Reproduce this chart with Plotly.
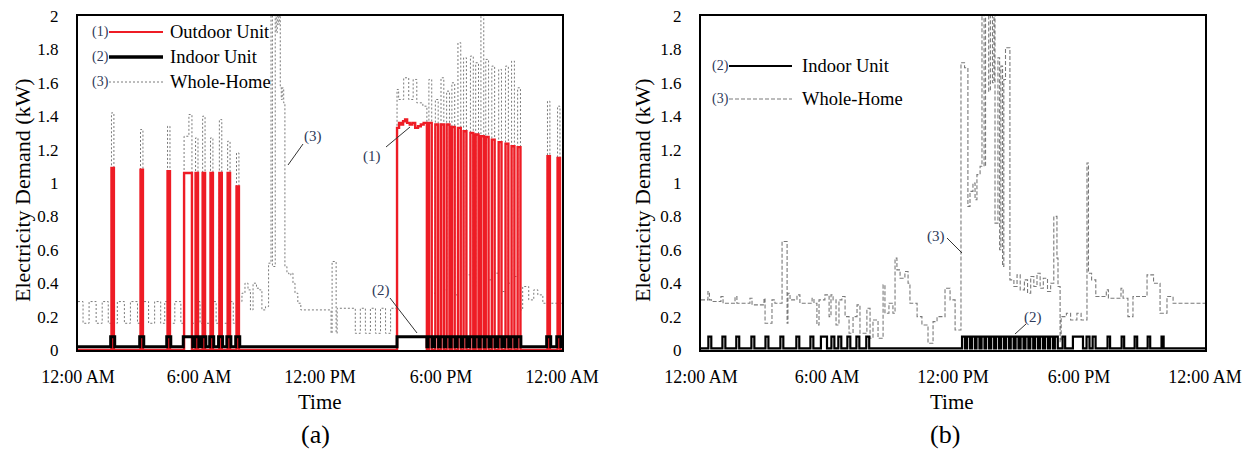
import plotly.graph_objects as go

# ---------------- data (hours after midnight, kW) ----------------
hour_ticks = [0, 6, 12, 18, 24]
hour_labels = ["12:00 AM", "6:00 AM", "12:00 PM", "6:00 PM", "12:00 AM"]

# (a) outdoor unit: on-periods (start, end, kW)
odu_a_start = [1.66, 3.10, 4.44, 5.26, 5.83, 6.18, 6.57, 7.01, 7.42, 7.86,
               15.82, 15.92, 16.02, 16.12, 16.22, 16.32, 16.45, 16.58, 16.72, 16.86, 17.00, 17.14,
               17.40, 17.72, 18.00, 18.28, 18.54, 18.84, 19.12, 19.46, 19.72, 19.98,
               20.22, 20.52, 20.86, 21.20, 21.50, 21.80, 23.28, 23.78]
odu_a_end = [1.78, 3.22, 4.56, 5.65, 5.95, 6.30, 6.69, 7.13, 7.54, 7.98,
             15.92, 16.02, 16.12, 16.22, 16.32, 16.45, 16.58, 16.72, 16.86, 17.00, 17.14, 17.30,
             17.54, 17.86, 18.14, 18.42, 18.68, 18.98, 19.26, 19.60, 19.86, 20.12,
             20.36, 20.66, 21.00, 21.34, 21.64, 21.94, 23.40, 23.90]
odu_a_kw = [1.09, 1.08, 1.07, 1.06, 1.06, 1.06, 1.06, 1.06, 1.06, 0.98,
            1.33, 1.36, 1.35, 1.37, 1.38, 1.36, 1.35, 1.36, 1.33, 1.34, 1.35, 1.36,
            1.36, 1.35, 1.35, 1.35, 1.335, 1.33, 1.31, 1.30, 1.29, 1.28,
            1.275, 1.26, 1.245, 1.235, 1.22, 1.215, 1.16, 1.15]
odu_a_off = 0.0

# (a) indoor unit: on-periods
idu_a_start = [1.62, 3.06, 4.40, 5.22, 5.79, 6.14, 6.53, 6.97, 7.38, 7.82,
               15.82, 17.36, 17.68, 17.96, 18.24, 18.50, 18.80, 19.08, 19.42, 19.68, 19.94,
               20.18, 20.48, 20.82, 21.16, 21.46, 21.76, 23.24, 23.74]
idu_a_end = [1.82, 3.26, 4.60, 5.69, 5.99, 6.34, 6.73, 7.17, 7.58, 8.02,
             17.30, 17.56, 17.88, 18.16, 18.44, 18.70, 19.00, 19.28, 19.62, 19.88, 20.14,
             20.38, 20.68, 21.02, 21.36, 21.66, 21.96, 23.44, 23.94]
idu_a_kw = [0.08] * len(idu_a_start)
idu_a_off = 0.02

# (a) whole-home
wh_a_t = [0.00, 0.25, 0.55, 0.90, 1.20, 1.50, 1.66, 1.78, 1.95, 2.30, 2.60, 2.95,
          3.10, 3.22, 3.50, 3.80, 4.10, 4.30, 4.44, 4.56, 4.80, 5.10,
          5.26, 5.50, 5.65, 5.83, 5.95, 6.05, 6.18, 6.30, 6.57, 6.69, 6.85,
          7.01, 7.13, 7.42, 7.54, 7.70, 7.86, 7.98,
          8.13, 8.28, 8.43, 8.55, 8.68, 8.85, 9.00, 9.12, 9.30, 9.45, 9.57, 9.64,
          9.78, 9.83, 9.88, 9.93, 9.98, 10.03, 10.08, 10.13, 10.20, 10.26, 10.36,
          10.46, 10.56, 10.66, 10.76, 10.90, 11.05, 12.55, 12.60, 12.80, 12.85,
          13.75, 14.00, 14.25, 14.50, 14.75, 15.00, 15.25, 15.50,
          15.82, 15.90, 16.15, 16.40, 16.62, 16.80, 17.10, 17.30,
          17.40, 17.54, 17.72, 17.86, 18.00, 18.14, 18.28, 18.42, 18.54, 18.68,
          18.84, 18.98, 19.12, 19.26, 19.46, 19.60, 19.72, 19.86, 19.98, 20.12,
          20.22, 20.36, 20.52, 20.66, 20.86, 21.00, 21.20, 21.34, 21.50, 21.64,
          21.80, 21.94, 22.05, 22.35, 22.60, 22.80, 23.05, 23.28, 23.40, 23.78,
          23.90, 24.00]
wh_a_kw = [0.29, 0.16, 0.29, 0.16, 0.29, 0.16, 1.42, 0.16, 0.29, 0.16, 0.29, 0.16,
           1.32, 0.29, 0.16, 0.29, 0.16, 0.29, 1.34, 0.16, 0.29, 0.16,
           1.28, 1.41, 0.16, 1.27, 0.29, 0.16, 1.40, 0.16, 1.27, 0.29, 0.16,
           1.38, 0.16, 1.25, 0.29, 0.16, 1.18, 0.29,
           0.34, 0.40, 0.36, 0.24, 0.40, 0.37, 0.36, 0.24, 0.26, 0.52, 2.10, 0.50,
           2.10, 1.90, 2.10, 1.95, 2.10, 1.58, 1.50, 1.57, 1.48, 0.50, 0.46,
           0.45, 0.46, 0.40, 0.34, 0.28, 0.24, 0.10, 0.53, 0.10, 0.25,
           0.10, 0.25, 0.10, 0.25, 0.10, 0.25, 0.10, 0.25,
           1.56, 1.50, 1.63, 1.50, 1.62, 1.48, 1.46, 0.40,
           1.62, 0.34, 1.50, 0.42, 1.63, 0.36, 1.55, 0.44, 1.60, 0.33,
           1.84, 0.40, 1.75, 0.45, 1.76, 0.38, 1.72, 0.48, 2.05, 0.36,
           1.74, 0.42, 1.70, 0.46, 1.68, 0.35, 1.70, 0.40, 1.73, 0.44,
           1.57, 0.24, 0.38, 0.30, 0.36, 0.33, 0.28, 1.49, 0.28, 1.46,
           0.28, 0.28]

# (b) indoor unit: on-periods
idu_b_start = [0.35, 1.02, 1.68, 2.40, 3.07, 3.78, 4.54, 5.21, 5.71, 6.21, 6.54, 6.97,
               7.40, 7.87, 12.43, 12.67, 12.90, 13.12, 13.36, 13.58, 13.82, 14.05,
               14.28, 14.52, 14.75, 14.98, 15.22, 15.45, 15.68, 15.91, 16.15, 16.38,
               16.62, 16.85, 17.22, 17.71, 18.36, 18.65, 19.36, 20.03, 20.65, 21.27, 21.93]
idu_b_end = [0.49, 1.16, 1.82, 2.54, 3.21, 3.92, 4.68, 5.35, 6.00, 6.35, 6.68, 7.11,
             7.54, 8.01, 12.57, 12.81, 13.04, 13.26, 13.50, 13.72, 13.96, 14.19,
             14.42, 14.66, 14.89, 15.12, 15.36, 15.59, 15.82, 16.05, 16.29, 16.52,
             16.76, 16.99, 17.34, 18.19, 18.50, 18.79, 19.48, 20.15, 20.77, 21.39, 22.03]
idu_b_kw = [0.08] * len(idu_b_start)
idu_b_off = 0.01

# (b) whole-home
wh_b_t = [0.00, 0.33, 0.40, 0.50, 0.95, 1.05, 1.62, 1.71, 2.33, 2.43, 3.00, 3.05,
          3.38, 3.52, 3.86, 4.10, 4.14, 4.24, 4.57, 4.71, 5.29, 5.38, 5.52, 5.62,
          5.90, 6.10, 6.19, 6.29, 6.43, 6.57, 6.71, 6.86, 7.05, 7.24, 7.43, 7.57,
          7.90, 8.05, 8.19, 8.43, 8.67, 8.76, 8.95, 9.14, 9.24, 9.33, 9.48, 9.71,
          9.86, 9.95, 10.29, 10.52, 10.81, 11.05, 11.24, 11.62, 11.86, 12.10,
          12.38, 12.55, 12.71, 12.81, 12.95, 13.05, 13.14, 13.29, 13.38, 13.48,
          13.55, 13.70, 13.78, 13.88, 13.95, 14.00, 14.14, 14.22, 14.28, 14.36,
          14.42, 14.50, 14.71, 14.90, 15.05, 15.20, 15.40, 15.55, 15.70, 15.85,
          16.00, 16.15, 16.30, 16.50, 16.65, 16.80, 16.95, 17.00, 17.10, 17.15,
          17.40, 17.60, 17.90, 18.10, 18.38, 18.45, 18.60, 18.80, 19.30, 19.40,
          20.00, 20.10, 20.33, 20.57, 21.24, 21.55, 21.86, 22.19, 22.48, 24.00]
wh_b_kw = [0.30, 0.35, 0.30, 0.29, 0.32, 0.28, 0.32, 0.28, 0.31, 0.27, 0.31, 0.16,
           0.30, 0.28, 0.65, 0.16, 0.34, 0.30, 0.33, 0.28, 0.31, 0.28, 0.15, 0.30,
           0.33, 0.20, 0.33, 0.30, 0.15, 0.30, 0.32, 0.20, 0.10, 0.20, 0.27, 0.10,
           0.25, 0.07, 0.18, 0.07, 0.39, 0.22, 0.28, 0.22, 0.55, 0.48, 0.43, 0.47,
           0.40, 0.28, 0.20, 0.15, 0.04, 0.17, 0.20, 0.37, 0.30, 0.12,
           1.72, 1.69, 0.86, 0.95, 1.00, 0.90, 1.05, 1.10, 2.10, 1.10,
           2.10, 1.55, 2.10, 1.60, 2.10, 0.76, 1.75, 0.60, 1.70, 0.50,
           1.62, 1.81, 0.42, 0.38, 0.45, 0.36, 0.42, 0.34, 0.44, 0.38,
           0.46, 0.37, 0.43, 0.35, 0.40, 0.80, 0.55, 0.38, 0.05, 0.20,
           0.22, 0.18, 0.22, 0.18, 1.12, 0.46, 0.42, 0.32, 0.36, 0.31,
           0.37, 0.31, 0.20, 0.32, 0.45, 0.40, 0.22, 0.32, 0.28, 0.28]


def steps(base, starts, ends, levels):
    """Turn on-periods into breakpoints for an 'hv' step line."""
    t, v = [0.0], [base]
    for i, (s, e, lv) in enumerate(zip(starts, ends, levels)):
        t.append(s)
        v.append(lv)
        nxt = starts[i + 1] if i + 1 < len(starts) else None
        if nxt is None or nxt > e + 1e-9:
            t.append(e)
            v.append(base)
    t.append(24.0)
    v.append(base)
    return t, v


odu_a_t, odu_a_v = steps(odu_a_off, odu_a_start, odu_a_end, odu_a_kw)
idu_a_t, idu_a_v = steps(idu_a_off, idu_a_start, idu_a_end, idu_a_kw)
idu_b_t, idu_b_v = steps(idu_b_off, idu_b_start, idu_b_end, idu_b_kw)

# ---------------- styling ----------------
W, H = 1257, 451
FONT = "'Liberation Serif', 'Times New Roman', Times, serif"
RED = "#EE1C25"
GRAY = "#7a7a7a"
TAG = "#2E3A59"


def fx(x):
    return x / W


def fy(y):
    return 1 - y / H


fig = go.Figure()

fig.add_trace(go.Scatter(x=wh_a_t, y=wh_a_kw, mode="lines", xaxis="x", yaxis="y",
                         line=dict(shape="hv", color=GRAY, width=1, dash="2px,2px")))
fig.add_trace(go.Scatter(x=odu_a_t, y=odu_a_v, mode="lines", xaxis="x", yaxis="y",
                         line=dict(shape="hv", color=RED, width=2.4)))
fig.add_trace(go.Scatter(x=idu_a_t, y=idu_a_v, mode="lines", xaxis="x", yaxis="y",
                         line=dict(shape="hv", color="black", width=3)))

fig.add_trace(go.Scatter(x=wh_b_t, y=wh_b_kw, mode="lines", xaxis="x2", yaxis="y2",
                         line=dict(shape="hv", color=GRAY, width=1.1, dash="4px,2px")))
fig.add_trace(go.Scatter(x=idu_b_t, y=idu_b_v, mode="lines", xaxis="x2", yaxis="y2",
                         line=dict(shape="hv", color="black", width=2.2)))

xcommon = dict(range=[0, 24], tickmode="array", tickvals=hour_ticks, ticktext=hour_labels,
               showline=True, linecolor="black", linewidth=2, mirror=True,
               showgrid=False, zeroline=False, ticks="", automargin=False,
               tickfont=dict(family=FONT, size=18, color="black"),
               ticklabelstandoff=9, layer="below traces", fixedrange=True)
ycommon = dict(range=[0, 2], tick0=0, dtick=0.2,
               showline=True, linecolor="black", linewidth=2, mirror=True,
               showgrid=False, zeroline=False, ticks="", automargin=False,
               tickfont=dict(family=FONT, size=17, color="black"),
               ticklabelstandoff=14, layer="below traces", fixedrange=True)

ydom = [fy(350), fy(16)]
fig.update_layout(
    width=W, height=H,
    margin=dict(l=0, r=0, t=0, b=0, autoexpand=False),
    paper_bgcolor="white", plot_bgcolor="white",
    showlegend=False,
    font=dict(family=FONT, color="black"),
    xaxis=dict(domain=[fx(78), fx(562)], anchor="y", **xcommon),
    yaxis=dict(domain=ydom, anchor="x", **ycommon),
    xaxis2=dict(domain=[fx(701), fx(1205)], anchor="y2", **xcommon),
    yaxis2=dict(domain=ydom, anchor="x2", **ycommon),
)

shapes = []
annos = []


def text(x, y, s, size, color="black", xanchor="center", angle=0):
    annos.append(dict(x=fx(x), y=fy(y), xref="paper", yref="paper", text=s,
                      showarrow=False, xanchor=xanchor, yanchor="middle",
                      textangle=angle, font=dict(family=FONT, size=size, color=color)))


def seg(x0, y0, x1, y1, color, width, dash="solid"):
    shapes.append(dict(type="line", xref="paper", yref="paper",
                       x0=fx(x0), y0=fy(y0), x1=fx(x1), y1=fy(y1),
                       line=dict(color=color, width=width, dash=dash)))


# axis titles and panel letters
for cx, ylab_x in [(320, 22), (952, 642)]:
    text(ylab_x, 190, "Electricity Demand (kW)", 22, angle=-90)
    text(cx, 402, "Time", 21)
text(315, 434, "(a)", 26)
text(945, 434, "(b)", 26)

# key, panel (a)
text(100, 32, "(1)", 14, TAG)
seg(109, 32, 163, 32, RED, 2)
text(168, 32, "Outdoor Unit", 18.5, xanchor="left")
text(100, 57, "(2)", 14, TAG)
seg(109, 57, 163, 57, "black", 3.5)
text(168, 57, "Indoor Unit", 18.5, xanchor="left")
text(100, 82, "(3)", 14, TAG)
seg(109, 82, 163, 82, GRAY, 1, "2px,2px")
text(168, 82, "Whole-Home", 18.5, xanchor="left")

# key, panel (b)
text(720, 66, "(2)", 14, TAG)
seg(729, 66, 792, 66, "black", 2)
text(800, 66, "Indoor Unit", 18.5, xanchor="left")
text(720, 99, "(3)", 14, TAG)
seg(729, 99, 792, 99, GRAY, 1.1, "4px,2px")
text(800, 99, "Whole-Home", 18.5, xanchor="left")

# callouts
text(313, 137, "(3)", 15, TAG)
seg(303, 144, 288, 165, "#333333", 1)
text(372, 156, "(1)", 15, TAG)
seg(386, 147, 410, 127, "#333333", 1)
text(381, 290, "(2)", 15, TAG)
seg(390, 298, 417, 333, "#333333", 1)
text(936, 236, "(3)", 15, TAG)
seg(947, 238, 962, 253, "#333333", 1)
text(1033, 317, "(2)", 15, TAG)
seg(1026, 324, 1015, 334, "#333333", 1)

fig.update_layout(shapes=shapes, annotations=annos)

fig.write_html("out.html")
